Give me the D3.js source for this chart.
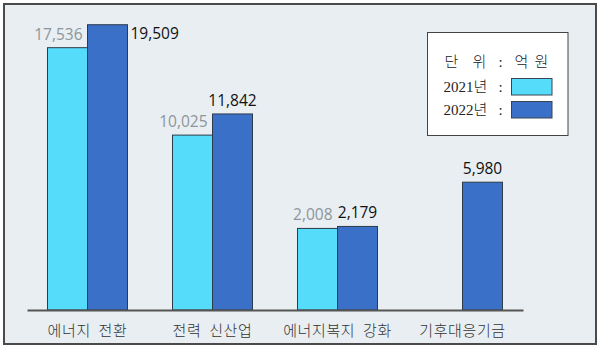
<!DOCTYPE html>
<html>
<head>
<meta charset="utf-8">
<script src="https://cdn.jsdelivr.net/npm/d3@7"></script>
<style>
  html, body { margin: 0; padding: 0; background: #fff; }
  svg { display: block; }
</style>
</head>
<body>
<svg id="chart" width="600" height="349"></svg>
<script>
// 분야별 예산 (단위: 억 원)
const categories = ["에너지 전환", "전력 신산업", "에너지복지 강화", "기후대응기금"];
const years = ["2021년", "2022년"];
const values2021 = [17536, 10025, 2008, null];
const values2022 = [19509, 11842, 2179, 5980];

const W = 600, H = 349;
const colors = { "2021년": "#56dcfb", "2022년": "#3a70c7" };
const valueColor = { "2021년": "#8e959b", "2022년": "#111" };

const svg = d3.select("#chart");

// panel
svg.append("rect")
  .attr("x", 4).attr("y", 4).attr("width", W - 8).attr("height", H - 9)
  .attr("fill", "#e8eef1").attr("stroke", "#4a4a4a").attr("stroke-width", 2);

const baseY = 310;
const x0 = d3.scaleBand()
  .domain(categories)
  .range([27, 523])
  .paddingInner(0.36)
  .paddingOuter(0.164);
const x1 = d3.scaleBand()
  .domain(years)
  .range([0, x0.bandwidth()]);
// bars rise from a raised floor so small budgets stay readable
const y = d3.scaleLinear().domain([-5000, 20000]).range([baseY, 19]);

const rows = [];
categories.forEach((c, i) => {
  if (values2021[i] != null) rows.push({ cat: c, year: "2021년", value: values2021[i] });
  if (values2022[i] != null) rows.push({ cat: c, year: "2022년", value: values2022[i] });
});
const maxValue = d3.max(rows, d => d.value);

svg.append("g").selectAll("rect")
  .data(rows)
  .join("rect")
  .attr("x", d => x0(d.cat) + x1(d.year))
  .attr("y", d => y(d.value))
  .attr("width", x1.bandwidth())
  .attr("height", d => baseY - y(d.value))
  .attr("fill", d => colors[d.year])
  .attr("stroke", "#2e3b4a")
  .attr("stroke-width", 1);

// value labels
const fmt = d3.format(",");
svg.append("g").selectAll("text")
  .data(rows)
  .join("text")
  .attr("font-family", "'Open Sans', sans-serif")
  .attr("font-size", 15.5)
  .attr("fill", d => valueColor[d.year])
  .attr("x", d => {
    const left = x0(d.cat) + x1(d.year);
    if (d.year === "2021년") return left + x1.bandwidth() - 5;
    if (d.value === maxValue) return left + x1.bandwidth() + 3;
    return left + x1.bandwidth() / 2;
  })
  .attr("y", d => {
    if (d.year === "2022년" && d.value === maxValue) return y(d.value) + 14;
    return y(d.value) - 8;
  })
  .attr("text-anchor", d => d.year === "2021년" ? "end" : (d.value === maxValue ? "start" : "middle"))
  .text(d => fmt(d.value));

// baseline and category names
const xAxis = d3.axisBottom(x0).tickSize(0).tickPadding(12);
const gx = svg.append("g").attr("transform", `translate(0,${baseY})`).call(xAxis);
gx.select(".domain").attr("stroke", "#555").attr("stroke-width", 2);
gx.selectAll(".tick text")
  .attr("font-family", "'Noto Sans CJK KR', sans-serif")
  .attr("font-size", 15)
  .attr("font-weight", 300)
  .attr("letter-spacing", 0.6)
  .attr("fill", "#333")
  .attr("dy", "0.9em")
  .style("white-space", "pre")
  .text(d => d.replace(" ", "  "));

// legend
const lg = svg.append("g").attr("transform", "translate(427.5,32.5)");
lg.append("rect").attr("width", 140.5).attr("height", 103)
  .attr("fill", "#fff").attr("stroke", "#444").attr("stroke-width", 1);
const unitChars = ["단", "위", ":", "억", "원"];
const unitX = [24, 52, 73, 94, 114];
lg.append("g").selectAll("text")
  .data(unitChars)
  .join("text")
  .attr("x", (d, i) => unitX[i])
  .attr("y", 34)
  .attr("text-anchor", "middle")
  .attr("font-family", "'Liberation Serif', 'Noto Sans CJK KR', serif")
  .attr("font-size", 15)
  .attr("font-weight", 300)
  .attr("fill", "#222")
  .text(d => d);
years.forEach((yr, i) => {
  const gy = 46 + i * 23;
  lg.append("text")
    .attr("x", 16).attr("y", gy + 13)
    .attr("font-family", "'Liberation Serif', 'Noto Sans CJK KR', serif")
    .attr("font-size", 15)
    .attr("font-weight", 300)
    .attr("fill", "#222")
    .text(yr);
  lg.append("text")
    .attr("x", 73).attr("y", gy + 13)
    .attr("text-anchor", "middle")
    .attr("font-family", "'Liberation Serif', serif")
    .attr("font-size", 15)
    .attr("fill", "#222")
    .text(":");
  lg.append("rect")
    .attr("x", 84).attr("y", gy)
    .attr("width", 40.5).attr("height", 16.5)
    .attr("fill", colors[yr])
    .attr("stroke", "#3a4450").attr("stroke-width", 1);
});
</script>
</body>
</html>
